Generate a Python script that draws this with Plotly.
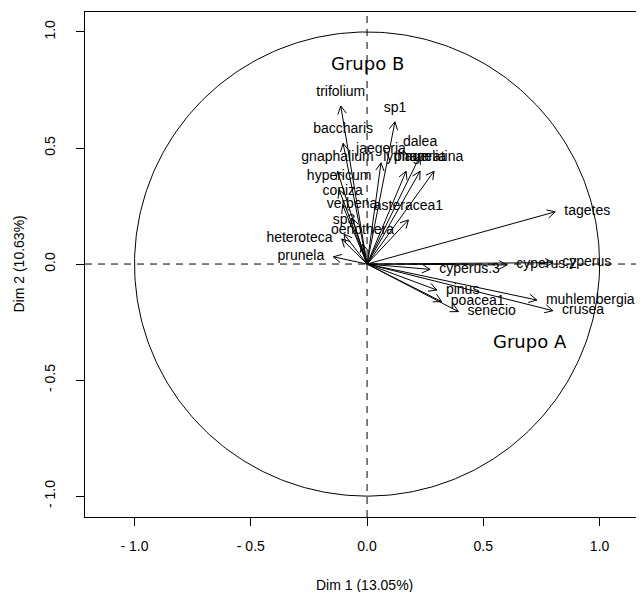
import numpy as np
import plotly.graph_objects as go

# ---- data (variable coordinates on Dim 1 / Dim 2) ----
var_names = ["trifolium", "sp1", "baccharis", "dalea", "jaegeria", "gnaphalium",
             "lythrum", "phacelia", "ageratina", "hypericum", "coniza", "verbena",
             "asteracea1", "sp3", "oenothera", "heteroteca", "prunela", "tagetes",
             "cyperus", "cyperus.2", "cyperus.3", "pinus", "poacea1", "senecio",
             "muhlembergia", "crusea"]
dim1 = [-0.113, 0.120, -0.103, 0.228, 0.060, -0.127,
        0.168, 0.228, 0.288, -0.120, -0.105, -0.065,
        0.178, -0.099, -0.020, -0.109, -0.145, 0.809,
        0.800, 0.602, 0.271, 0.300, 0.321, 0.393,
        0.730, 0.799]
dim2 = [0.681, 0.613, 0.520, 0.466, 0.436, 0.400,
        0.400, 0.400, 0.400, 0.320, 0.254, 0.198,
        0.190, 0.129, 0.086, 0.108, 0.031, 0.225,
        0.006, -0.004, -0.023, -0.112, -0.162, -0.205,
        -0.155, -0.201]
tick_vals = [-1.0, -0.5, 0.0, 0.5, 1.0]
tick_text = ["- 1.0", "- 0.5", "0.0", "0.5", "1.0"]
x_title = "Dim 1 (13.05%)"
y_title = "Dim 2 (10.63%)"
group_labels = ["Grupo B", "Grupo A"]

# ---- figure ----
# the page body adds an 8px margin, so the figure is 8px smaller than the window
W, H = 636, 584
ml, mr, mt, mb = 77, 0, 4, 75
xr = [-1.213, 1.191]
yr = [-1.09, 1.086]
pxu = (W - ml - mr) / (xr[1] - xr[0])
FONT = "Liberation Sans, Arial"

fig = go.Figure()

# unit circle
th = np.linspace(0, 2 * np.pi, 400)
fig.add_trace(go.Scatter(x=np.cos(th), y=np.sin(th), mode="lines",
                         line=dict(color="black", width=1), hoverinfo="skip"))

# dashed axes
fig.add_trace(go.Scatter(x=[xr[0], xr[1]], y=[0, 0], mode="lines",
                         line=dict(color="black", width=1, dash="7px,6px"), hoverinfo="skip"))
fig.add_trace(go.Scatter(x=[0, 0], y=[yr[0], yr[1]], mode="lines",
                         line=dict(color="black", width=1, dash="7px,6px"), hoverinfo="skip"))

# arrows (shaft + open V head)
L = 9.0 / pxu
ang = np.deg2rad(28)
ax_, ay_ = [], []
for x, y in zip(dim1, dim2):
    t = np.arctan2(y, x)
    ax_ += [0, x, None]
    ay_ += [0, y, None]
    for s in (1, -1):
        ax_ += [x, x - L * np.cos(t + s * ang), None]
        ay_ += [y, y - L * np.sin(t + s * ang), None]
fig.add_trace(go.Scatter(x=ax_, y=ay_, mode="lines",
                         line=dict(color="black", width=1), hoverinfo="skip"))

# labels, side chosen from the dominant direction
pos, msize = [], []
for x, y in zip(dim1, dim2):
    if abs(x) >= abs(y):
        pos.append("middle right" if x > 0 else "middle left")
        msize.append(13)
    else:
        pos.append("top center" if y > 0 else "bottom center")
        msize.append(9)
fig.add_trace(go.Scatter(x=dim1, y=dim2, mode="markers+text", text=var_names,
                         textposition=pos, cliponaxis=False,
                         marker=dict(size=msize, opacity=0),
                         textfont=dict(family=FONT, size=14, color="black"),
                         hoverinfo="skip"))

fig.add_annotation(x=0.0, y=0.866, text=group_labels[0], showarrow=False,
                   font=dict(family="DejaVu Sans", size=18, color="black"))
fig.add_annotation(x=0.701, y=-0.332, text=group_labels[1], showarrow=False,
                   font=dict(family="DejaVu Sans", size=18, color="black"))

# axis titles
fig.add_annotation(xref="paper", yref="paper", x=0.5, y=0, yshift=-68,
                   text=x_title, showarrow=False, xanchor="center", yanchor="middle",
                   font=dict(family=FONT, size=14, color="black"))
fig.add_annotation(xref="paper", yref="paper", x=0, y=0.5, xshift=-67,
                   text=y_title, showarrow=False, textangle=-90,
                   xanchor="center", yanchor="middle",
                   font=dict(family=FONT, size=14, color="black"))

axis_common = dict(showgrid=False, zeroline=False, showline=True, linecolor="black",
                   linewidth=1, ticks="outside", ticklen=8, tickcolor="black",
                   automargin=False,
                   tickfont=dict(family=FONT, size=14, color="black"),
                   tickmode="array", tickvals=tick_vals, ticktext=tick_text)

fig.update_layout(
    width=W, height=H, showlegend=False,
    margin=dict(l=ml, r=mr, t=mt, b=mb, autoexpand=False),
    paper_bgcolor="white", plot_bgcolor="white",
    xaxis=dict(range=xr, mirror=True, ticklabelstandoff=8, **axis_common),
    yaxis=dict(range=yr, mirror=False, tickangle=-90, ticklabelstandoff=15, **axis_common),
)

fig.write_html("out.html")
